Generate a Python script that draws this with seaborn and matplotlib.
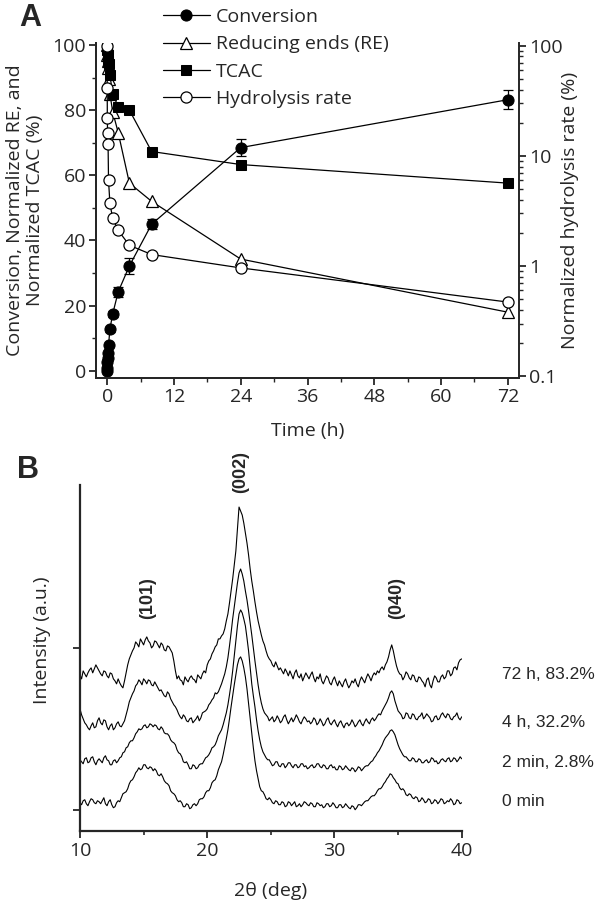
import numpy as np
import pandas as pd
import seaborn as sns
import matplotlib.pyplot as plt
from matplotlib.ticker import MultipleLocator, LogLocator, FixedLocator, NullFormatter, FuncFormatter

sns.set_style("ticks")
plt.rcParams["font.family"] = ["Open Sans", "DejaVu Sans"]
plt.rcParams["xtick.labelsize"] = 14
plt.rcParams["ytick.labelsize"] = 14

# ---- panel A: time course ----
conv_t = [0, 0.017, 0.033, 0.083, 0.167, 0.25, 0.5, 1, 2, 4, 8, 24, 72]
conv = [0, 1.0, 2.8, 4.0, 5.5, 7.8, 12.8, 17.5, 24.3, 32.2, 45.0, 68.5, 83.2]
conv_err = [0, 0, 0, 0, 0, 0.5, 0.8, 1.0, 1.5, 2.5, 1.5, 2.5, 3.0]

re_t = [0, 0.033, 0.083, 0.167, 0.25, 0.5, 1, 2, 4, 8, 24, 72]
re_vals = [100, 97, 95, 93, 89.5, 85, 79.5, 73, 57.6, 52, 34.3, 18]

tcac_t = [0, 0.083, 0.167, 0.25, 0.5, 1, 2, 4, 8, 24, 72]
tcac = [98.5, 97, 95, 94, 90.7, 85, 81, 80, 67.3, 63.3, 57.6]

rate_t = [0, 0.017, 0.033, 0.083, 0.167, 0.25, 0.5, 1, 2, 4, 8, 24, 72]
rate = [100, 41, 22.3, 16, 12.9, 6.0, 3.7, 2.7, 2.1, 1.54, 1.27, 0.96, 0.47]

# ---- panel B: XRD patterns, 10-40 deg in 0.125 deg steps (one row = 3 deg) ----
two_theta = np.linspace(10, 40, 241)
xrd_0min = [28, 26, 30, 31, 27, 25, 29, 32, 31, 28, 27, 30, 29, 27, 30, 33, 27, 25, 29, 31, 26, 23, 24, 28,
            30, 29, 33, 37, 38, 39, 42, 47, 50, 51, 54, 58, 60, 63, 61, 62, 66, 66, 63, 62, 64, 63, 60, 62,
            60, 56, 55, 57, 54, 50, 48, 47, 45, 40, 38, 37, 35, 31, 29, 30, 28, 24, 24, 27, 26, 22, 23, 26,
            27, 25, 27, 31, 32, 32, 34, 38, 40, 40, 43, 48, 50, 51, 55, 61, 65, 69, 76, 84, 92, 101, 112, 124,
            135, 146, 156, 166, 172, 174, 170, 163, 154, 142, 127, 112, 97, 83, 70, 60, 52, 44, 40, 39, 36, 32, 31, 33,
            31, 28, 27, 30, 29, 26, 26, 29, 28, 24, 25, 29, 28, 25, 27, 29, 24, 25, 27, 24, 26, 29, 28, 26,
            25, 28, 27, 24, 24, 28, 27, 25, 26, 23, 24, 27, 27, 24, 25, 28, 26, 23, 23, 26, 26, 23, 24, 27,
            25, 23, 22, 25, 24, 21, 23, 26, 26, 25, 27, 29, 30, 30, 32, 34, 35, 35, 37, 40, 42, 42, 44, 47,
            49, 52, 54, 57, 56, 53, 51, 48, 47, 43, 41, 42, 40, 36, 35, 37, 36, 33, 32, 34, 33, 29, 30, 33,
            31, 28, 29, 32, 31, 27, 28, 31, 30, 27, 29, 32, 31, 27, 28, 30, 29, 32, 30, 26, 27, 31, 30, 27,
            28]
xrd_2min = [71, 69, 67, 72, 73, 68, 69, 73, 74, 69, 66, 70, 72, 70, 68, 73, 75, 71, 70, 66, 66, 70, 71, 68,
            70, 73, 74, 78, 79, 83, 84, 88, 90, 90, 93, 97, 99, 102, 101, 102, 105, 106, 103, 104, 107, 106, 104, 106,
            105, 102, 101, 104, 102, 98, 97, 97, 95, 91, 89, 88, 86, 81, 78, 77, 74, 69, 68, 69, 66, 62, 62, 66,
            65, 62, 63, 66, 67, 67, 70, 73, 74, 76, 79, 83, 84, 86, 90, 95, 98, 101, 106, 112, 118, 126, 136, 147,
            160, 175, 190, 205, 217, 221, 218, 212, 205, 193, 180, 163, 147, 135, 124, 111, 100, 91, 84, 79, 76, 73, 71, 71,
            68, 65, 66, 69, 69, 65, 64, 67, 67, 63, 65, 68, 68, 65, 63, 66, 66, 63, 64, 67, 67, 64, 65, 62,
            63, 65, 66, 63, 64, 67, 67, 64, 63, 66, 65, 62, 62, 65, 66, 63, 64, 61, 61, 65, 64, 61, 62, 65,
            63, 61, 60, 63, 62, 59, 61, 64, 63, 60, 62, 64, 65, 65, 67, 69, 70, 73, 75, 78, 80, 83, 86, 90,
            93, 95, 97, 100, 101, 99, 96, 91, 86, 82, 79, 76, 74, 74, 72, 70, 70, 73, 72, 69, 69, 72, 71, 68,
            68, 70, 71, 68, 69, 73, 72, 69, 70, 67, 68, 71, 72, 70, 69, 72, 73, 69, 70, 73, 72, 69, 71, 74,
            72]
xrd_4h = [122, 116, 112, 108, 106, 103, 101, 105, 108, 103, 104, 110, 113, 108, 106, 111, 110, 104, 101, 105, 107, 101, 103, 107,
          109, 105, 104, 107, 110, 116, 122, 129, 133, 137, 140, 145, 147, 151, 149, 146, 152, 150, 147, 151, 150, 146, 145, 149,
          146, 143, 140, 141, 138, 135, 134, 139, 137, 132, 129, 126, 124, 121, 117, 114, 112, 116, 114, 110, 109, 112, 113, 108,
          110, 112, 115, 110, 113, 118, 119, 120, 122, 126, 128, 131, 133, 138, 137, 139, 143, 147, 152, 157, 164, 173, 185, 198,
          212, 224, 236, 248, 258, 262, 257, 250, 240, 231, 220, 208, 196, 183, 170, 158, 146, 136, 128, 122, 118, 116, 114, 110,
          112, 114, 109, 111, 115, 112, 108, 110, 114, 116, 111, 107, 110, 113, 109, 112, 116, 113, 109, 107, 111, 114, 112, 109,
          110, 107, 109, 113, 111, 106, 108, 112, 109, 105, 107, 111, 113, 108, 106, 109, 111, 107, 104, 108, 110, 106, 103, 107,
          108, 105, 107, 111, 108, 104, 106, 109, 111, 107, 105, 109, 112, 109, 107, 111, 113, 110, 112, 115, 117, 116, 120, 123,
          126, 129, 133, 138, 140, 137, 130, 125, 120, 118, 116, 112, 113, 118, 117, 113, 112, 117, 116, 112, 111, 114, 115, 118,
          112, 114, 117, 115, 113, 109, 110, 114, 115, 111, 112, 116, 118, 115, 113, 117, 116, 112, 111, 114, 115, 118, 113, 111,
          114]
xrd_72h = [156, 152, 160, 157, 154, 158, 161, 163, 158, 162, 166, 163, 160, 157, 155, 160, 159, 155, 153, 158, 157, 152, 150, 147,
           152, 148, 145, 143, 150, 158, 166, 172, 176, 180, 183, 189, 187, 184, 192, 189, 186, 191, 194, 190, 188, 183, 185, 190,
           189, 186, 183, 188, 186, 181, 180, 185, 184, 181, 178, 170, 160, 152, 155, 151, 150, 146, 154, 151, 149, 153, 155, 152,
           151, 148, 156, 154, 152, 157, 160, 158, 166, 170, 172, 177, 180, 184, 186, 192, 192, 195, 197, 202, 210, 217, 228, 240,
           252, 266, 280, 302, 324, 320, 316, 308, 298, 288, 276, 262, 250, 240, 229, 219, 210, 203, 196, 190, 186, 180, 175, 172,
           170, 166, 164, 169, 165, 161, 163, 160, 157, 162, 159, 155, 160, 156, 152, 158, 161, 155, 153, 157, 150, 154, 158, 155,
           152, 156, 159, 153, 149, 154, 152, 157, 150, 147, 151, 155, 153, 148, 146, 151, 154, 149, 145, 150, 147, 144, 149, 152,
           147, 143, 146, 150, 148, 152, 147, 144, 150, 154, 151, 148, 153, 157, 154, 150, 155, 158, 156, 160, 158, 162, 164, 161,
           166, 169, 174, 181, 186, 180, 172, 165, 160, 157, 156, 151, 154, 159, 157, 153, 151, 156, 155, 150, 149, 154, 153, 150,
           148, 144, 151, 153, 146, 143, 150, 155, 153, 149, 149, 154, 156, 152, 154, 160, 160, 155, 157, 163, 164, 161, 168, 171,
           172]
xrd_curves = [xrd_0min, xrd_2min, xrd_4h, xrd_72h]
xrd_labels = ["0 min", "2 min, 2.8%", "4 h, 32.2%", "72 h, 83.2%"]
xrd_label_y = [29, 68, 108, 156]
peak_labels = ["(101)", "(002)", "(040)"]
peak_pos = [15.3, 22.6, 34.9]
peak_label_y = [233, 359, 233]

for c in xrd_curves:
    assert len(c) == len(two_theta), len(c)

fig = plt.figure(figsize=(6, 9.05), dpi=100)

# ---------- A ----------
axA = fig.add_axes([0.16, 0.5823, 0.705, 0.3702])
axR = axA.twinx()

lw = 0.9
sns.lineplot(x=conv_t, y=conv, ax=axA, color="k", lw=lw, marker="o", markersize=8,
             markerfacecolor="k", markeredgecolor="k", zorder=3)
h_conv = axA.lines[-1]
axA.errorbar(conv_t, conv, yerr=conv_err, fmt="none", ecolor="k", elinewidth=lw,
             capsize=3.5, capthick=lw, zorder=2)
sns.lineplot(x=re_t, y=re_vals, ax=axA, color="k", lw=lw, marker="^", markersize=9,
             markerfacecolor="white", markeredgecolor="k", markeredgewidth=0.9, zorder=3)
h_re = axA.lines[-1]
sns.lineplot(x=tcac_t, y=tcac, ax=axA, color="k", lw=lw, marker="s", markersize=7.5,
             markerfacecolor="k", markeredgecolor="k", zorder=3)
h_tcac = axA.lines[-1]
sns.lineplot(x=rate_t, y=rate, ax=axR, color="k", lw=lw, marker="o", markersize=8,
             markerfacecolor="white", markeredgecolor="k", markeredgewidth=0.9, zorder=3)
h_rate = axR.lines[-1]

axA.set_xlim(-2, 74)
axA.set_ylim(-2.2, 100.6)
axA.xaxis.set_major_locator(MultipleLocator(12))
axA.xaxis.set_minor_locator(MultipleLocator(6))
axA.yaxis.set_major_locator(MultipleLocator(20))
axA.yaxis.set_minor_locator(MultipleLocator(10))
axA.set_xlabel("Time (h)", fontsize=14, labelpad=12)
axA.set_ylabel("Conversion, Normalized RE, and\nNormalized TCAC (%)", fontsize=14,
               linespacing=1.15, labelpad=6)

axR.set_yscale("log")
axR.set_ylim(0.096, 106)
axR.yaxis.set_major_locator(FixedLocator([0.1, 1, 10, 100]))
axR.yaxis.set_major_formatter(FuncFormatter(lambda v, _: f"{v:g}"))
axR.yaxis.set_minor_locator(LogLocator(base=10, subs=np.arange(2, 10)))
axR.yaxis.set_minor_formatter(NullFormatter())
axR.set_ylabel("Normalized hydrolysis rate (%)", fontsize=14, labelpad=-1)

for a in (axA, axR):
    a.spines["top"].set_visible(False)
    for s in a.spines.values():
        s.set_linewidth(1.4)
    a.tick_params(which="major", direction="out", length=5, width=1.3, pad=2)
    a.tick_params(which="minor", direction="out", length=3, width=1.0)
axA.spines["right"].set_visible(False)

fig.legend([h_conv, h_re, h_tcac, h_rate],
           ["Conversion", "Reducing ends (RE)", "TCAC", "Hydrolysis rate"],
           loc="upper left", bbox_to_anchor=(163 / 600, 1 - 8 / 905), frameon=False,
           fontsize=14, handlelength=2.4, handletextpad=0.3, labelspacing=0.48,
           borderpad=0, borderaxespad=0)

fig.text(30 / 600, 1 - 18 / 905, "A", fontsize=22, fontweight="bold",
         family="Liberation Sans", ha="center", va="center")

# ---------- B ----------
axB = fig.add_axes([0.1333, 0.0821, 0.6362, 0.3819])
for curve in xrd_curves:
    sns.lineplot(x=two_theta, y=curve, ax=axB, color="k", lw=0.8)

axB.set_xlim(10, 40)
axB.set_ylim(0, 346)
axB.xaxis.set_major_locator(MultipleLocator(10))
axB.xaxis.set_minor_locator(MultipleLocator(5))
axB.set_yticks([21, 183])
axB.set_yticklabels([])
sns.despine(ax=axB)
for s in axB.spines.values():
    s.set_linewidth(1.6)
axB.tick_params(which="major", direction="out", length=5, width=1.3, pad=3)
axB.tick_params(which="minor", direction="out", length=3, width=1.2)
axB.set_xlabel("2θ (deg)", fontsize=14, labelpad=16)
axB.set_ylabel("Intensity (a.u.)", fontsize=14)
axB.yaxis.set_label_coords(-0.075, 0.55)

for lab, xp, yp in zip(peak_labels, peak_pos, peak_label_y):
    axB.text(xp, yp, lab, rotation=90, ha="center", va="center", fontsize=13,
             fontweight="bold", family="Liberation Sans", clip_on=False)

for lab, yp in zip(xrd_labels, xrd_label_y):
    axB.text(43.2, yp, lab, ha="left", va="center", fontsize=12.5,
             family="Liberation Sans", clip_on=False)

fig.text(28 / 600, 1 - 470 / 905, "B", fontsize=22, fontweight="bold",
         family="Liberation Sans", ha="center", va="center")

fig.savefig("out.png", dpi=100)
